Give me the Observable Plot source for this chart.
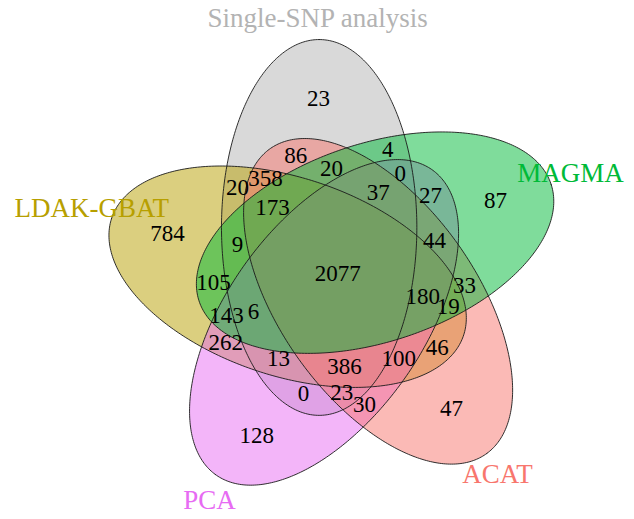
<!DOCTYPE html>
<html>
<head>
<meta charset="utf-8">
<script src="https://cdn.jsdelivr.net/npm/d3@7"></script>
<script src="https://cdn.jsdelivr.net/npm/@observablehq/plot@0.6"></script>
<style>
  html, body { margin: 0; padding: 0; background: #fff; }
  #chart svg { display: block; }
</style>
</head>
<body>
<div id="chart"></div>
<script>
// ---- Data ----
const setNames = ["Single-SNP analysis", "MAGMA", "ACAT", "PCA", "LDAK-GBAT"];
const setColors = ["#B3B3B3", "#00BA38", "#F8766D", "#E76BF3", "#B79F00"];
// draw order of fills (last one on top)
const drawOrder = ["Single-SNP analysis", "LDAK-GBAT", "PCA", "ACAT", "MAGMA"];

// region counts (31 regions of the 5-set Venn)
const regionCounts = [23, 87, 47, 128, 784, 2077, 86, 4, 20, 0, 358, 20, 37, 27, 173, 44,
                      9, 105, 33, 180, 19, 143, 6, 262, 46, 13, 386, 100, 0, 23, 30];

// ---- Layout (diagram units, centre of diagram = 0,0) ----
const regionU = [-0.045, 0.390, 0.282, -0.197, -0.416, 0.002, -0.101, 0.125, -0.013, 0.156, -0.175, -0.244, 0.102, 0.230, -0.158, 0.240,
                 -0.244, -0.303, 0.314, 0.211, 0.274, -0.271, -0.205, -0.273, 0.247, -0.143, 0.019, 0.152, -0.082, 0.012, 0.068];
const regionV = [0.425, 0.178, -0.325, -0.391, 0.098, 0.001, 0.287, 0.302, 0.256, 0.244, 0.231, 0.210, 0.198, 0.190, 0.161, 0.081,
                 0.072, -0.020, -0.028, -0.054, -0.078, -0.100, -0.091, -0.166, -0.178, -0.205, -0.224, -0.205, -0.289, -0.287, -0.316];
const catU = [-0.047, 0.574, 0.395, -0.313, -0.602];
const catV = [0.619, 0.244, -0.485, -0.548, 0.159];

// ellipse geometry (diagram units)
const ellA = 0.24, ellB = 0.455, ellDist = 0.121;

function ellipsePoints(name, k) {
  const ca = (111 - 72 * k) * Math.PI / 180;
  const cx = ellDist * Math.cos(ca), cy = ellDist * Math.sin(ca);
  const r = (90 - 72 * k) * Math.PI / 180;
  const pts = [];
  const n = 360;
  for (let i = 0; i <= n; i++) {
    const t = 2 * Math.PI * i / n;
    const ex = ellB * Math.cos(t), ey = ellA * Math.sin(t);
    pts.push({set: name, x: cx + ex * Math.cos(r) - ey * Math.sin(r), y: cy + ex * Math.sin(r) + ey * Math.cos(r)});
  }
  return pts;
}

const ellipses = {};
setNames.forEach((s, k) => { ellipses[s] = ellipsePoints(s, k); });
const colorOf = Object.fromEntries(setNames.map((s, i) => [s, setColors[i]]));

const regions = regionCounts.map((c, i) => ({count: c, x: regionU[i], y: regionV[i]}));
const cats = setNames.map((s, i) => ({name: s, color: setColors[i], x: catU[i], y: catV[i]}));

const font = "'Liberation Serif', 'Times New Roman', serif";

const marks = [];
for (const s of drawOrder) {
  marks.push(Plot.line(ellipses[s], {x: "x", y: "y", fill: colorOf[s], fillOpacity: 0.5, stroke: "none", curve: "linear"}));
}
for (const s of drawOrder) {
  marks.push(Plot.line(ellipses[s], {x: "x", y: "y", fill: "none", stroke: "#1a1a1a", strokeWidth: 0.9, curve: "linear"}));
}
marks.push(Plot.text(regions, {x: "x", y: "y", text: d => String(d.count), fontSize: 23, fontFamily: font, fill: "#000"}));
marks.push(Plot.text(cats, {x: "x", y: "y", text: "name", fontSize: 27, fontFamily: font, fill: d => d.color}));

const chart = Plot.plot({
  width: 634,
  height: 519,
  margin: 0,
  style: {background: "#fff", fontFamily: font},
  x: {type: "linear", domain: [-0.8263, 0.7314], axis: null},
  y: {type: "linear", domain: [-0.5942, 0.6625], axis: null},
  color: {type: "identity"},
  marks
});
document.getElementById("chart").appendChild(chart);
</script>
</body>
</html>
